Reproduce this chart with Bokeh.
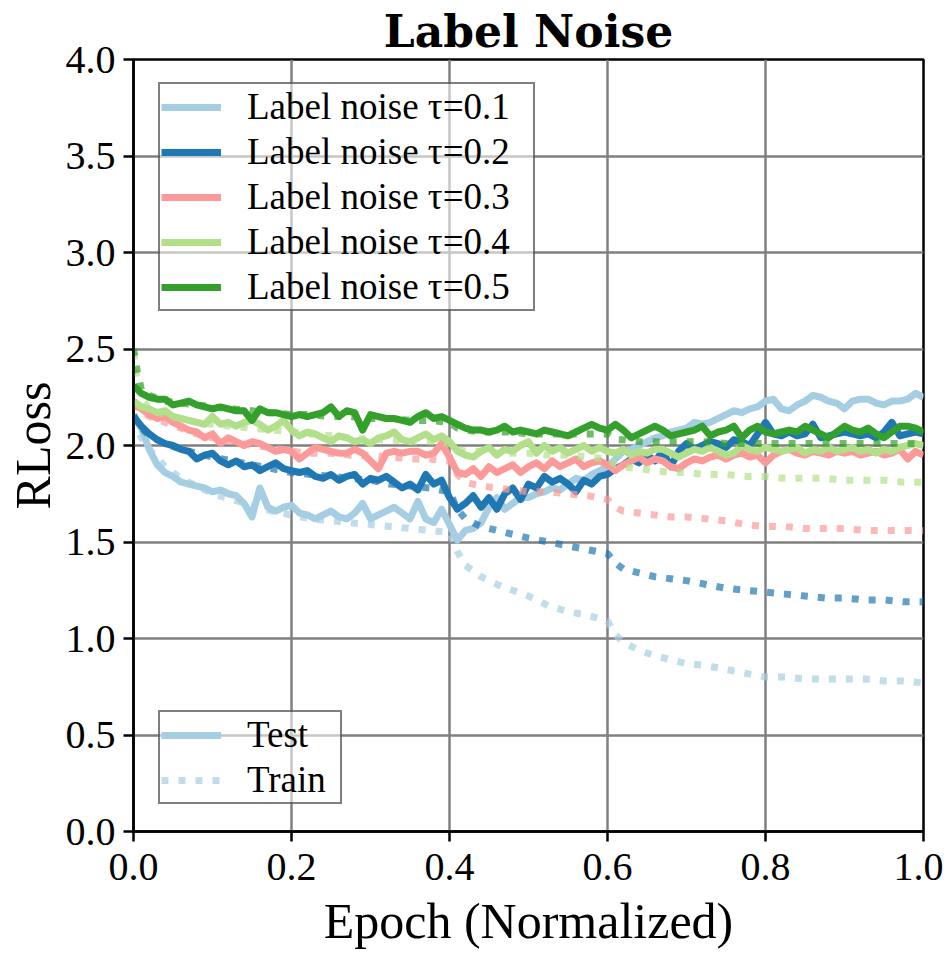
import numpy as np
from bokeh.plotting import figure
from bokeh.models import Range1d, FixedTicker, Legend, LegendItem, NumeralTickFormatter
from bokeh.embed import file_html
from bokeh.resources import INLINE

# ---------------- data ----------------
x_test = np.linspace(0.0, 1.0, 101)

tau01_test = [2.15, 2.09, 1.98, 1.90, 1.86, 1.84, 1.81, 1.80, 1.79, 1.78,
              1.76, 1.77, 1.75, 1.74, 1.70, 1.63, 1.78, 1.68, 1.66, 1.68,
              1.69, 1.65, 1.64, 1.62, 1.64, 1.66, 1.63, 1.62, 1.65, 1.70,
              1.62, 1.64, 1.66, 1.68, 1.65, 1.62, 1.71, 1.62, 1.60, 1.67,
              1.59, 1.51, 1.56, 1.57, 1.60, 1.68, 1.73, 1.67, 1.70, 1.73,
              1.73, 1.75, 1.76, 1.78, 1.77, 1.80, 1.83, 1.82, 1.85, 1.87,
              1.89, 1.93, 1.97, 1.98, 2.00, 2.02, 2.04, 2.05, 2.07, 2.08,
              2.09, 2.12, 2.11, 2.12, 2.14, 2.16, 2.18, 2.17, 2.19, 2.20,
              2.23, 2.24, 2.19, 2.18, 2.21, 2.23, 2.26, 2.25, 2.23, 2.22,
              2.19, 2.23, 2.24, 2.24, 2.22, 2.21, 2.23, 2.23, 2.24, 2.27,
              2.25]

tau02_test = [2.15, 2.10, 2.06, 2.03, 2.01, 2.00, 1.98, 1.97, 1.93, 1.95,
              1.96, 1.92, 1.90, 1.92, 1.89, 1.90, 1.87, 1.89, 1.91, 1.88,
              1.87, 1.86, 1.87, 1.84, 1.83, 1.85, 1.82, 1.84, 1.85, 1.80,
              1.83, 1.82, 1.84, 1.81, 1.78, 1.80, 1.77, 1.85, 1.80, 1.82,
              1.73, 1.67, 1.70, 1.74, 1.68, 1.73, 1.67, 1.75, 1.78, 1.72,
              1.80, 1.78, 1.84, 1.81, 1.83, 1.80, 1.76, 1.82, 1.80, 1.84,
              1.85, 1.88, 1.90, 1.93, 1.91, 1.95, 1.92, 1.97, 1.89, 1.97,
              2.01, 1.98, 2.00, 2.02, 2.01, 1.99, 2.03, 2.02, 2.00, 2.06,
              2.12, 2.06, 2.05, 2.07, 2.05, 2.06, 2.11, 2.04, 2.05, 2.06,
              2.07, 2.06, 2.05, 2.06, 2.04, 2.07, 2.12, 2.05, 2.06, 2.07,
              2.06]

tau03_test = [2.21, 2.19, 2.16, 2.14, 2.15, 2.12, 2.10, 2.08, 2.07, 2.04,
              2.06, 2.01, 2.04, 2.02, 2.00, 2.02, 2.01, 1.99, 1.97, 1.98,
              1.97, 1.93, 1.96, 1.99, 1.98, 1.97, 1.96, 1.96, 1.98, 1.96,
              1.92, 1.88, 1.96, 1.97, 1.96, 1.97, 1.97, 1.95, 1.96, 2.01,
              1.94, 1.86, 1.85, 1.88, 1.84, 1.89, 1.86, 1.88, 1.90, 1.86,
              1.89, 1.91, 1.88, 1.92, 1.89, 1.91, 1.93, 1.89, 1.91, 1.92,
              1.90, 1.87, 1.90, 1.92, 1.94, 1.91, 1.93, 1.92, 1.89, 1.88,
              1.91, 1.93, 1.92, 1.94, 1.95, 1.93, 1.95, 1.96, 1.94, 1.95,
              1.91, 1.95, 1.97, 1.98, 1.96, 1.95, 1.97, 1.96, 1.95, 1.97,
              1.96, 1.97, 1.95, 1.96, 1.97, 1.95, 1.96, 1.98, 1.93, 1.97,
              1.95]

tau04_test = [2.23, 2.20, 2.19, 2.17, 2.18, 2.15, 2.14, 2.13, 2.12, 2.11,
              2.15, 2.11, 2.12, 2.10, 2.12, 2.13, 2.11, 2.08, 2.10, 2.13,
              2.08, 2.05, 2.07, 2.06, 2.04, 2.02, 2.05, 2.04, 2.02, 2.03,
              2.01, 2.04, 2.05, 2.07, 2.03, 2.02, 2.04, 2.06, 2.03, 2.05,
              2.02, 1.97, 1.95, 1.94, 1.97, 1.99, 1.95, 1.98, 1.97, 2.00,
              2.02, 1.96, 2.00, 1.97, 1.99, 1.96, 1.98, 2.00, 1.97, 1.99,
              1.97, 1.96, 1.98, 1.95, 1.97, 1.96, 1.98, 1.98, 1.96, 1.94,
              1.96, 1.98, 1.97, 1.99, 1.97, 1.95, 1.96, 2.00, 1.98, 1.97,
              1.99, 1.98, 1.97, 1.98, 1.99, 1.96, 1.98, 1.97, 1.99, 1.97,
              1.98, 1.99, 1.97, 1.98, 1.96, 1.98, 1.97, 1.99, 2.00, 2.01,
              2.00]

tau05_test = [2.31, 2.27, 2.25, 2.24, 2.24, 2.21, 2.22, 2.23, 2.21, 2.20,
              2.19, 2.20, 2.19, 2.18, 2.18, 2.13, 2.19, 2.17, 2.17, 2.16,
              2.15, 2.16, 2.15, 2.16, 2.17, 2.20, 2.15, 2.18, 2.17, 2.08,
              2.16, 2.15, 2.14, 2.14, 2.13, 2.12, 2.15, 2.17, 2.14, 2.15,
              2.13, 2.11, 2.09, 2.08, 2.08, 2.07, 2.08, 2.10, 2.07, 2.08,
              2.07, 2.06, 2.08, 2.07, 2.06, 2.05, 2.07, 2.09, 2.11, 2.09,
              2.08, 2.11, 2.08, 2.04, 2.06, 2.08, 2.10, 2.08, 2.05, 2.06,
              2.07, 2.08, 2.10, 2.05, 2.07, 2.08, 2.10, 2.04, 2.08, 2.10,
              2.07, 2.06, 2.07, 2.08, 2.07, 2.10, 2.08, 2.06, 2.04, 2.07,
              2.10, 2.08, 2.07, 2.09, 2.06, 2.04, 2.07, 2.10, 2.10, 2.09,
              2.07]

x_train = [0.0, 0.005, 0.01, 0.02, 0.04, 0.06, 0.08, 0.1, 0.125, 0.15,
           0.175, 0.2, 0.225, 0.25, 0.275, 0.3, 0.325, 0.35, 0.375, 0.4,
           0.41, 0.42, 0.44, 0.46, 0.48, 0.5, 0.525, 0.55, 0.575, 0.6,
           0.61, 0.62, 0.64, 0.66, 0.68, 0.7, 0.725, 0.75, 0.775, 0.8,
           0.825, 0.85, 0.875, 0.9, 0.925, 0.95, 0.975, 1.0]

tau01_train = [2.14, 2.08, 2.04, 1.98, 1.89, 1.83, 1.79, 1.75, 1.72, 1.69,
               1.66, 1.64, 1.62, 1.61, 1.60, 1.59, 1.58, 1.57, 1.56, 1.55,
               1.45, 1.38, 1.32, 1.28, 1.25, 1.22, 1.17, 1.14, 1.12, 1.09,
               1.02, 0.98, 0.94, 0.91, 0.89, 0.87, 0.86, 0.84, 0.82, 0.80,
               0.80, 0.79, 0.79, 0.79, 0.79, 0.78, 0.78, 0.77]

tau02_train = [2.16, 2.12, 2.09, 2.05, 2.01, 1.98, 1.96, 1.94, 1.92, 1.90,
               1.88, 1.86, 1.85, 1.84, 1.83, 1.82, 1.80, 1.79, 1.78, 1.76,
               1.67, 1.62, 1.58, 1.56, 1.54, 1.52, 1.50, 1.48, 1.46, 1.44,
               1.39, 1.36, 1.34, 1.32, 1.31, 1.30, 1.28, 1.26, 1.25, 1.24,
               1.23, 1.22, 1.21, 1.21, 1.20, 1.20, 1.19, 1.19]

tau03_train = [2.22, 2.20, 2.18, 2.15, 2.12, 2.09, 2.06, 2.04, 2.02, 2.00,
               1.99, 1.97, 1.96, 1.96, 1.95, 1.95, 1.94, 1.93, 1.93, 1.92,
               1.85, 1.81, 1.79, 1.78, 1.77, 1.76, 1.76, 1.75, 1.74, 1.72,
               1.68, 1.66, 1.65, 1.64, 1.63, 1.63, 1.62, 1.61, 1.59, 1.58,
               1.58, 1.57, 1.57, 1.57, 1.56, 1.56, 1.56, 1.56]

tau04_train = [2.48, 2.32, 2.24, 2.19, 2.16, 2.14, 2.12, 2.11, 2.10, 2.09,
               2.08, 2.07, 2.06, 2.05, 2.04, 2.03, 2.03, 2.02, 2.02, 2.01,
               1.98, 1.97, 1.97, 1.96, 1.96, 1.96, 1.95, 1.95, 1.94, 1.93,
               1.90, 1.89, 1.88, 1.87, 1.86, 1.86, 1.85, 1.85, 1.84, 1.84,
               1.83, 1.83, 1.83, 1.82, 1.82, 1.82, 1.81, 1.81]

tau05_train = [2.50, 2.38, 2.29, 2.26, 2.23, 2.22, 2.21, 2.20, 2.19, 2.18,
               2.17, 2.16, 2.16, 2.15, 2.15, 2.14, 2.14, 2.13, 2.13, 2.12,
               2.09, 2.08, 2.07, 2.07, 2.07, 2.06, 2.06, 2.06, 2.06, 2.06,
               2.03, 2.03, 2.02, 2.02, 2.02, 2.02, 2.02, 2.01, 2.01, 2.01,
               2.01, 2.01, 2.01, 2.01, 2.01, 2.01, 2.01, 2.01]

series_labels = ["Label noise \u03c4=0.1", "Label noise \u03c4=0.2", "Label noise \u03c4=0.3",
                 "Label noise \u03c4=0.4", "Label noise \u03c4=0.5"]
colors = ["#a6cee3", "#1f78b4", "#fb9a99", "#b2df8a", "#33a02c"]
test_series = [tau01_test, tau02_test, tau03_test, tau04_test, tau05_test]
train_series = [tau01_train, tau02_train, tau03_train, tau04_train, tau05_train]

x_ticks = [0.0, 0.2, 0.4, 0.6, 0.8, 1.0]
y_ticks = [0.0, 0.5, 1.0, 1.5, 2.0, 2.5, 3.0, 3.5, 4.0]

# ---------------- figure ----------------
FONT = "Liberation Serif"
TITLE_FONT = "DejaVu Serif"

p = figure(frame_width=790, frame_height=772, output_backend="svg", toolbar_location=None,
           x_range=Range1d(0, 1), y_range=Range1d(0, 4),
           min_border_left=133, min_border_right=20, min_border_top=58, min_border_bottom=115,
           title="Label Noise")
p.background_fill_color = "white"
p.border_fill_color = "white"
p.outline_line_color = "black"
p.outline_line_width = 2.5
p.outline_line_alpha = 1.0

p.title.align = "center"
p.title.text_font = TITLE_FONT
p.title.text_font_size = "44px"
p.title.text_font_style = "bold"
p.title.text_color = "black"
p.title.standoff = 6
p.title.offset = 0

for ax in (p.xaxis[0], p.yaxis[0]):
    ax.axis_line_width = 2.5
    ax.axis_line_color = "black"
    ax.major_tick_in = 0
    ax.major_tick_out = 10
    ax.major_tick_line_width = 2.5
    ax.minor_tick_line_color = None
    ax.major_label_text_font = FONT
    ax.major_label_text_font_size = "40px"
    ax.major_label_text_color = "black"
    ax.axis_label_text_font = FONT
    ax.axis_label_text_font_size = "50px"
    ax.axis_label_text_font_style = "normal"
    ax.axis_label_text_color = "black"
    ax.formatter = NumeralTickFormatter(format="0.0")

p.xaxis[0].ticker = FixedTicker(ticks=x_ticks)
p.yaxis[0].ticker = FixedTicker(ticks=y_ticks)
p.xaxis[0].axis_label = "Epoch (Normalized)"
p.yaxis[0].axis_label = "RLoss"
p.xaxis[0].major_label_standoff = 12
p.yaxis[0].major_label_standoff = 8
p.xaxis[0].axis_label_standoff = 10
p.yaxis[0].axis_label_standoff = 2

p.grid.grid_line_color = "#808080"
p.grid.grid_line_width = 2.5
p.xgrid.ticker = FixedTicker(ticks=x_ticks)
p.ygrid.ticker = FixedTicker(ticks=y_ticks)

test_renderers = []
train_renderers = []
for lab, col, ys_test, ys_train in zip(series_labels, colors, test_series, train_series):
    rt = p.line(x_train, ys_train, line_color=col, line_width=7, line_alpha=0.7,
                line_dash="7 10")
    rs = p.line(x_test, ys_test, line_color=col, line_width=7, line_join="round")
    test_renderers.append(rs)
    train_renderers.append(rt)

def style_legend(lg, lw):
    lg.label_text_font = FONT
    lg.label_text_font_size = "37px"
    lg.label_text_color = "black"
    lg.glyph_width = 60
    lg.glyph_height = 36
    lg.label_height = 36
    lg.label_width = lw
    lg.label_standoff = 26
    lg.spacing = 2
    lg.padding = 1
    lg.margin = 0
    lg.border_line_color = "black"
    lg.border_line_alpha = 0.5
    lg.border_line_width = 2.5
    lg.background_fill_color = "white"
    lg.background_fill_alpha = 0.55

legend_top = Legend(items=[LegendItem(label=l, renderers=[r]) for l, r in zip(series_labels, test_renderers)],
                    location=(25, 520))
style_legend(legend_top, 285)
p.add_layout(legend_top, "center")

legend_bot = Legend(items=[LegendItem(label="Test", renderers=[test_renderers[0]]),
                           LegendItem(label="Train", renderers=[train_renderers[0]])],
                    location=(25, 27))
style_legend(legend_bot, 92)
p.add_layout(legend_bot, "center")

open("out.html", "w").write(file_html(p, INLINE))
